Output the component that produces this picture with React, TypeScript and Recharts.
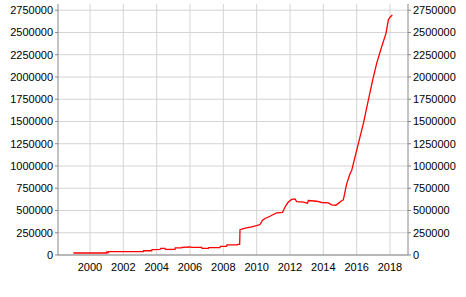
import React from 'react';
import { LineChart, Line, XAxis, YAxis, CartesianGrid } from 'recharts';

// time in decimal years
const years = [
  1999.0, 2001.0, 2001.02, 2001.08, 2001.12, 2003.2, 2003.22, 2003.7, 2003.72, 2004.2,
  2004.25, 2004.5, 2004.52, 2005.1, 2005.12, 2005.5, 2005.52, 2006.0, 2006.1, 2006.7,
  2006.72, 2007.1, 2007.12, 2007.8, 2007.82, 2008.2, 2008.22, 2008.84, 2008.86, 2008.98,
  2009.0, 2009.2, 2009.4, 2009.7, 2010.0, 2010.2, 2010.35, 2010.5, 2010.8, 2011.0,
  2011.2, 2011.55, 2011.75, 2011.9, 2012.1, 2012.3, 2012.4, 2012.8, 2013.05, 2013.1,
  2013.6, 2013.9, 2014.3, 2014.5, 2014.75, 2014.9, 2015.1, 2015.2, 2015.4, 2015.6,
  2015.7, 2016.0, 2016.4, 2016.7, 2016.96, 2017.2, 2017.5, 2017.76, 2017.9, 2018.0,
  2018.14,
];

const values = [
  22500, 22500, 37000, 25000, 37000, 37000, 48000, 48000, 60000, 63000,
  74000, 74000, 63000, 63000, 79000, 79000, 86000, 90000, 86000, 86000,
  74000, 74000, 82000, 82000, 97000, 97000, 113000, 113000, 119000, 119000,
  285000, 295000, 305000, 315000, 330000, 342000, 390000, 410000, 435000, 455000,
  473000, 480000, 556000, 595000, 625000, 631000, 600000, 593000, 582000, 612000,
  604000, 590000, 586000, 563000, 559000, 580000, 610000, 620000, 800000, 913000,
  950000, 1175000, 1476000, 1739000, 1964000, 2153000, 2340000, 2490000, 2640000, 2671000,
  2697000,
];

const xTicks = [2000, 2002, 2004, 2006, 2008, 2010, 2012, 2014, 2016, 2018];
const yTicks = [0, 250000, 500000, 750000, 1000000, 1250000, 1500000, 1750000, 2000000, 2250000, 2500000, 2750000];

const data = years.map((t, i) => ({ t, v: values[i] }));

const tickStyle = { fontSize: 11, fill: '#000', fontFamily: 'Liberation Sans, Arial, sans-serif' };

export default function App() {
  return (
    <div style={{ position: 'fixed', left: 0, top: 0, width: 466, height: 297, background: '#fff' }}>
      <LineChart width={466} height={297} data={data} margin={{ top: 4, right: 0, bottom: 12, left: 0 }}>
        <CartesianGrid stroke="#d4d4d4" horizontalValues={yTicks} verticalValues={xTicks} yAxisId="l" />
        <XAxis
          dataKey="t"
          type="number"
          domain={[1998.08, 2019.08]}
          ticks={xTicks}
          interval={0}
          tickLine={false}
          tickSize={6}
          tickMargin={2}
          height={30}
          axisLine={{ stroke: '#888' }}
          tick={tickStyle}
        />
        <YAxis
          yAxisId="l"
          orientation="left"
          type="number"
          domain={[0, 2820000]}
          ticks={yTicks}
          interval={0}
          width={58}
          tickSize={3}
          tickMargin={2}
          axisLine={{ stroke: '#888' }}
          tickLine={{ stroke: '#888' }}
          tick={tickStyle}
        />
        <YAxis
          yAxisId="r"
          orientation="right"
          type="number"
          domain={[0, 2820000]}
          ticks={yTicks}
          interval={0}
          width={58}
          tickSize={3}
          tickMargin={2}
          axisLine={{ stroke: '#888' }}
          tickLine={{ stroke: '#888' }}
          tick={tickStyle}
        />
        <Line
          yAxisId="r"
          dataKey="v"
          type="linear"
          stroke="none"
          strokeWidth={0}
          dot={false}
          activeDot={false}
          isAnimationActive={false}
        />
        <Line
          yAxisId="l"
          dataKey="v"
          type="linear"
          stroke="#ff0000"
          strokeWidth={1.3}
          dot={false}
          isAnimationActive={false}
        />
      </LineChart>
    </div>
  );
}
